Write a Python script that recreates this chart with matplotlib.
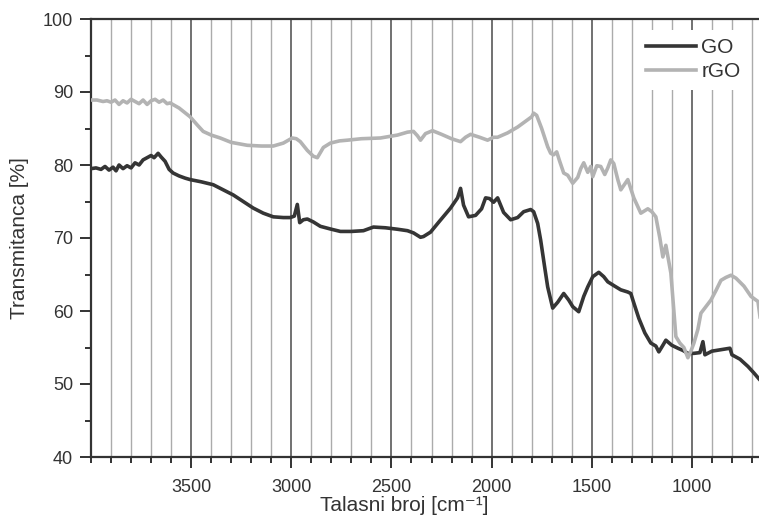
import matplotlib
matplotlib.use("Agg")
import matplotlib.pyplot as plt
from matplotlib.ticker import MultipleLocator

plt.rcParams['font.family'] = ['Liberation Sans', 'DejaVu Sans']

# GO spectrum (wavenumber, transmittance)
go_wn = [4000, 3975, 3950, 3930, 3910, 3890, 3875, 3860, 3840, 3820, 3800, 3780, 3760,
         3740, 3720, 3700, 3685, 3665, 3650, 3630, 3610, 3590, 3560, 3530, 3505, 3450,
         3390, 3340, 3290, 3240, 3190, 3140, 3090, 3040, 3005, 2985, 2970, 2958, 2940,
         2920, 2890, 2855, 2800, 2755, 2700, 2640, 2590, 2530, 2470, 2420, 2390, 2355,
         2340, 2305, 2260, 2205, 2170, 2155, 2140, 2115, 2080, 2050, 2030, 2010, 1990,
         1970, 1940, 1905, 1870, 1840, 1805, 1790, 1770, 1755, 1735, 1720, 1695, 1670,
         1640, 1615, 1595, 1565, 1540, 1520, 1495, 1465, 1440, 1420, 1385, 1355, 1320,
         1305, 1290, 1265, 1235, 1205, 1180, 1165, 1145, 1130, 1100, 1070, 1045, 1020,
         990, 960, 945, 935, 900, 855, 810, 800, 760, 720, 690, 665]
go_t = [79.5, 79.6, 79.4, 79.8, 79.3, 79.7, 79.2, 80.0, 79.5, 79.9, 79.6, 80.3, 80.0,
        80.7, 81.0, 81.3, 81.0, 81.6, 81.1, 80.5, 79.4, 78.9, 78.5, 78.2, 78.0, 77.7,
        77.3, 76.6, 75.9, 75.0, 74.1, 73.4, 72.9, 72.8, 72.8, 73.0, 74.6, 72.1, 72.5,
        72.6, 72.2, 71.6, 71.2, 70.9, 70.9, 71.0, 71.5, 71.4, 71.2, 71.0, 70.7, 70.1,
        70.2, 70.8, 72.3, 74.1, 75.5, 76.8, 74.5, 72.9, 73.1, 74.0, 75.5, 75.4, 74.9,
        75.5, 73.5, 72.5, 72.8, 73.6, 73.9, 73.6, 72.0, 69.7, 66.0, 63.3, 60.4, 61.2,
        62.4, 61.5, 60.6, 59.9, 62.0, 63.3, 64.7, 65.3, 64.7, 64.0, 63.4, 62.9, 62.6,
        62.4, 61.1, 59.0, 57.0, 55.6, 55.2, 54.4, 55.3, 56.0, 55.3, 54.9, 54.6, 54.2,
        54.2, 54.3, 55.8, 54.0, 54.5, 54.7, 54.9, 54.0, 53.4, 52.4, 51.5, 50.7]

# rGO spectrum (wavenumber, transmittance)
rgo_wn = [4000, 3970, 3940, 3920, 3900, 3880, 3860, 3840, 3820, 3800, 3780, 3760,
          3740, 3720, 3700, 3680, 3660, 3640, 3620, 3605, 3560, 3505, 3470, 3440,
          3400, 3355, 3300, 3220, 3150, 3090, 3040, 2995, 2975, 2955, 2920, 2890,
          2870, 2840, 2805, 2760, 2720, 2650, 2555, 2470, 2420, 2390, 2370, 2355,
          2330, 2295, 2250, 2200, 2155, 2130, 2105, 2060, 2020, 1990, 1970, 1920,
          1870, 1830, 1800, 1790, 1775, 1750, 1720, 1705, 1690, 1675, 1660, 1640,
          1620, 1595, 1570, 1555, 1540, 1520, 1505, 1495, 1475, 1455, 1435, 1420,
          1405, 1390, 1370, 1355, 1320, 1290, 1255, 1220, 1200, 1180, 1160, 1145,
          1130, 1105, 1090, 1080, 1060, 1040, 1020, 1005, 990, 970, 955, 930, 905,
          880, 855, 830, 805, 780, 740, 705, 685, 670, 660]
rgo_t = [88.9, 88.9, 88.7, 88.8, 88.6, 88.9, 88.3, 88.8, 88.5, 89.0, 88.7, 88.4,
         88.9, 88.3, 88.8, 89.0, 88.6, 88.9, 88.4, 88.5, 87.8, 86.6, 85.5, 84.6,
         84.1, 83.7, 83.1, 82.7, 82.6, 82.6, 83.0, 83.7, 83.6, 83.2, 82.0, 81.2,
         81.0, 82.4, 83.0, 83.3, 83.4, 83.6, 83.7, 84.1, 84.5, 84.6, 84.0, 83.4,
         84.3, 84.7, 84.2, 83.6, 83.2, 83.8, 84.2, 83.8, 83.4, 83.8, 83.8, 84.4,
         85.2, 86.0, 86.6, 87.1, 86.8, 85.0, 82.5, 81.6, 81.4, 81.8, 80.5, 78.9,
         78.6, 77.5, 78.3, 79.5, 80.3, 79.0, 79.8, 78.4, 79.9, 79.8, 78.7, 79.6,
         80.7, 80.2, 78.0, 76.6, 78.0, 75.5, 73.4, 74.0, 73.6, 72.9, 70.0, 67.4,
         69.0, 65.2, 60.0, 56.5, 55.6, 55.0, 53.6, 54.5, 55.6, 57.5, 59.7, 60.6,
         61.5, 62.8, 64.2, 64.6, 64.9, 64.5, 63.4, 62.0, 61.6, 61.3, 59.2]

fig = plt.figure(figsize=(7.59, 5.19), dpi=100)
ax = fig.add_axes([91/759, 62/519, 668/759, 438/519])

minor_x = list(range(3900, 600, -100))
for wn in minor_x:
    if wn % 500 == 0:
        ax.axvline(wn, color='#4a4a4a', lw=1.1, zorder=1)
    else:
        ax.axvline(wn, color='#ababab', lw=1.0, zorder=1)

ax.plot(go_wn, go_t, color='#353535', lw=2.6, label='GO', zorder=3)
ax.plot(rgo_wn, rgo_t, color='#b3b3b3', lw=2.6, label='rGO', zorder=3)

ax.set_xlim(4000, 665)
ax.set_ylim(40, 100)

ax.xaxis.set_major_locator(MultipleLocator(500))
ax.xaxis.set_minor_locator(MultipleLocator(100))
ax.yaxis.set_major_locator(MultipleLocator(10))
ax.yaxis.set_minor_locator(MultipleLocator(5))
ax.set_xticks([3500, 3000, 2500, 2000, 1500, 1000])

ax.tick_params(axis='both', which='major', direction='out', length=8, width=1.4,
               color='#333333', labelsize=13, labelcolor='#333333', pad=5)
ax.tick_params(axis='both', which='minor', direction='out', length=4, width=1.4,
               color='#333333')
ax.tick_params(axis='x', which='major', pad=8)

ax.spines['right'].set_visible(False)
for side in ['left', 'bottom', 'top']:
    ax.spines[side].set_color('#333333')
    ax.spines[side].set_linewidth(1.6)

ax.set_ylabel('Transmitanca [%]', fontsize=15, color='#333333', labelpad=10)
ax.set_xlabel('Talasni broj [cm⁻¹]', fontsize=15, color='#333333')
ax.xaxis.set_label_coords(0.469, -0.088)

leg = ax.legend(loc='upper right', bbox_to_anchor=(0.985, 0.975), frameon=True,
                fancybox=False, edgecolor='none', facecolor='white', framealpha=1,
                fontsize=15, handlelength=2.4, handletextpad=0.25, labelspacing=0.25,
                borderpad=0.4, borderaxespad=0.0)
for t in leg.get_texts():
    t.set_color('#333333')
leg.set_zorder(5)

fig.savefig('out.png', dpi=100)
